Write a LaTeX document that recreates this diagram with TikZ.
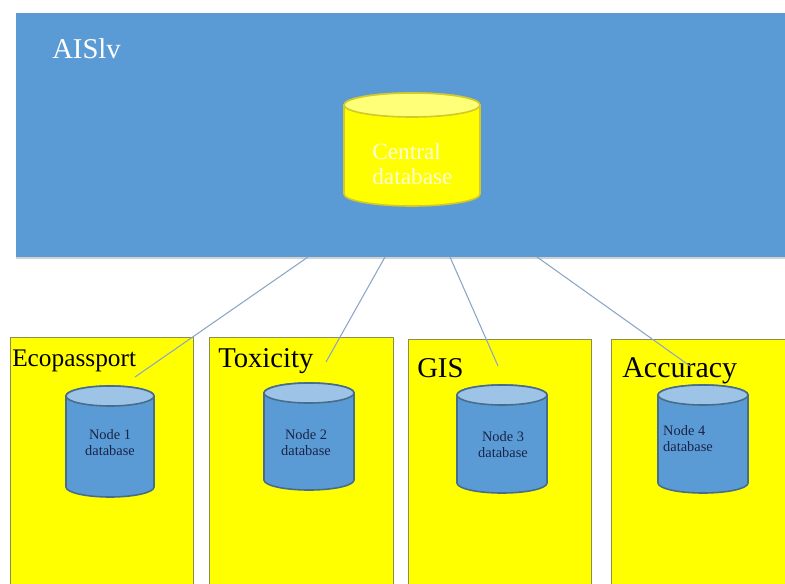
\documentclass[tikz,border=0pt]{standalone}
\usepackage{fontspec}
\setmainfont{Liberation Serif}
\definecolor{aisblue}{RGB}{91,155,213}
\definecolor{toplightblue}{RGB}{157,195,230}
\definecolor{cylblue}{RGB}{91,155,213}
\definecolor{cyledge}{RGB}{70,110,140}
\definecolor{boxyellow}{RGB}{255,255,0}
\definecolor{boxedge}{RGB}{140,140,80}
\definecolor{topyellow}{RGB}{255,255,120}
\definecolor{linkcol}{RGB}{140,165,200}
\definecolor{navytext}{RGB}{25,35,70}
\newcommand{\dbcyl}[8]{% cx, top, bottom, rx, ry, body, top fill, edge
  \filldraw[fill=#6,draw=#8,line width=1.2pt]
    (#1-#4,#2+#5) -- (#1-#4,#3-#5)
    arc[start angle=180,end angle=0,x radius=#4,y radius=#5]
    -- (#1+#4,#2+#5)
    arc[start angle=0,end angle=-180,x radius=#4,y radius=#5] -- cycle;
  \filldraw[fill=#7,draw=#8,line width=1.2pt] (#1,#2+#5) ellipse[x radius=#4,y radius=#5];
}
\tikzset{
  panel/.style={draw=boxedge,fill=boxyellow,line width=0.8pt},
  link/.style={draw=linkcol,line width=0.8pt},
  paneltitle/.style={anchor=base west,inner sep=0pt,text=black,font=\fontsize{21.5}{22}\selectfont},
  dblabel/.style={align=center,inner sep=0pt,text=navytext,font=\fontsize{10.8}{12}\selectfont},
}
\begin{document}
\begin{tikzpicture}[x=0.75pt,y=-0.75pt]
\useasboundingbox (0,0) rectangle (785,584);
\clip (0,0) rectangle (785,584);
% main blue panel
\fill[gray!35] (16,257) rectangle (800,259);
\node[fill=aisblue,draw=none,anchor=north west,inner sep=0pt,minimum width=588pt,minimum height=183pt] (aislv) at (16,13) {};
\node[anchor=base west,inner sep=0pt,text=white,font=\fontsize{21.5}{22}\selectfont] (aislvlabel) at (52,59) {AISlv};
% central database
\dbcyl{412}{93}{206}{68}{12}{boxyellow}{topyellow}{yellow!80!black}
\node[anchor=base west,inner sep=0pt,text=white!85!yellow,font=\fontsize{17.5}{19}\selectfont] (central) at (372,160) {Central};
\node[anchor=base west,inner sep=0pt,text=white!85!yellow,font=\fontsize{17.5}{19}\selectfont] (centraldb) at (372,185) {database};
% panels
\node[panel,anchor=north west,inner sep=0pt,minimum width=137.25pt,minimum height=200pt] (p1) at (10,337) {};
\node[panel,anchor=north west,inner sep=0pt,minimum width=138pt,minimum height=200pt] (p2) at (209,337) {};
\node[panel,anchor=north west,inner sep=0pt,minimum width=137.25pt,minimum height=200pt] (p3) at (408,339) {};
\node[panel,anchor=north west,inner sep=0pt,minimum width=160pt,minimum height=200pt] (p4) at (611,339) {};
% panel titles
\node[paneltitle,font=\fontsize{19}{19}\selectfont] (t1) at (12,367) {Ecopassport};
\node[paneltitle] (t2) at (218,368) {Toxicity};
\node[paneltitle] (t3) at (417,378) {GIS};
\node[paneltitle,font=\fontsize{22.5}{23}\selectfont] (t4) at (622,378) {Accuracy};
% node databases
\dbcyl{110}{386}{497}{44}{10}{cylblue}{toplightblue}{cyledge}
\dbcyl{309}{383}{490}{45}{10}{cylblue}{toplightblue}{cyledge}
\dbcyl{502}{385}{493}{45}{10}{cylblue}{toplightblue}{cyledge}
\dbcyl{703}{385}{493}{45}{10}{cylblue}{toplightblue}{cyledge}
\node[dblabel] (d1) at (110,443) {Node 1\\database};
\node[dblabel] (d2) at (306,443) {Node 2\\database};
\node[dblabel] (d3) at (503,445) {Node 3\\database};
\node[dblabel,align=left] (d4) at (688,439) {Node 4\\database};
% connectors
\coordinate (s1) at (308,257); \coordinate (e1) at (135,377);
\coordinate (s2) at (385,257); \coordinate (e2) at (326,362);
\coordinate (s3) at (450,257); \coordinate (e3) at (498,366);
\coordinate (s4) at (537,257); \coordinate (e4) at (690,366);
\draw[link] (s1) -- (e1);
\draw[link] (s2) -- (e2);
\draw[link] (s3) -- (e3);
\draw[link] (s4) -- (e4);
\end{tikzpicture}
\end{document}
